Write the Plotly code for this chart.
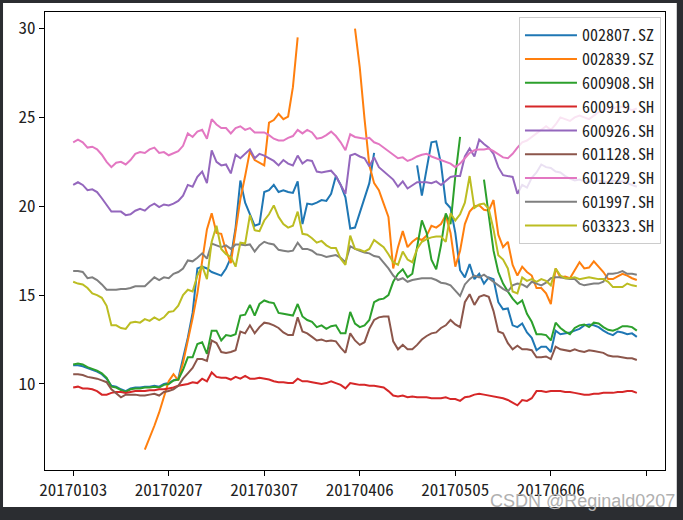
import plotly.graph_objects as go

dates = [
    "20170103","20170104","20170105","20170106","20170109","20170110","20170111","20170112","20170113",
    "20170116","20170117","20170118","20170119","20170120","20170123","20170124","20170125","20170126",
    "20170203","20170206","20170207","20170208","20170209","20170210","20170213","20170214","20170215",
    "20170216","20170217","20170220","20170221","20170222","20170223","20170224","20170227","20170228",
    "20170301","20170302","20170303","20170306","20170307","20170308","20170309","20170310","20170313",
    "20170314","20170315","20170316","20170317","20170320","20170321","20170322","20170323","20170324",
    "20170327","20170328","20170329","20170330","20170331",
    "20170405","20170406","20170407","20170410","20170411","20170412","20170413","20170414","20170417",
    "20170418","20170419","20170420","20170421","20170424","20170425","20170426","20170427","20170428",
    "20170502","20170503","20170504","20170505","20170508","20170509","20170510","20170511","20170512",
    "20170515","20170516","20170517","20170518","20170519","20170522","20170523","20170524","20170525",
    "20170526","20170531",
    "20170601","20170602","20170605","20170606","20170607","20170608","20170609","20170612","20170613",
    "20170614","20170615","20170616","20170619","20170620","20170621","20170622","20170623","20170626",
    "20170627","20170628","20170629","20170630",
]

N = None
s002807 = [11.05,11.05,11.0,10.9,10.8,10.7,10.55,10.3,9.9,9.85,
           9.7,9.6,9.75,9.8,9.8,9.85,9.85,9.9,9.85,10.0,
           10.05,10.2,10.3,11.5,12.6,14.0,16.5,16.6,16.5,16.3,
           16.2,16.1,16.5,17.1,18.8,21.45,20.2,19.5,18.9,19.0,
           20.8,20.9,21.2,20.8,20.9,20.8,20.75,21.4,19.0,20.15,
           20.1,20.2,20.35,20.3,20.7,21.7,21.2,20.5,18.75,18.8,
           19.6,20.4,21.3,23.0,N,N,N,N,N,N,
           N,N,22.3,20.6,22.1,23.6,23.65,22.4,20.2,19.9,
           18.5,16.4,16.0,16.75,15.9,16.2,15.65,16.0,15.9,14.6,
           14.2,14.25,13.3,13.2,13.4,12.9,12.6,11.9,12.1,12.1,
           11.8,13.0,12.8,12.85,12.9,13.0,13.1,13.3,13.35,13.3,
           13.2,13.0,12.85,12.75,12.95,12.9,12.8,12.85,12.65]
s002839 = [N,N,N,N,N,N,N,N,N,N,
           N,N,N,N,N,6.3,6.95,7.65,8.4,9.25,
           10.15,10.55,10.2,11.2,12.4,13.7,15.1,16.9,18.7,19.6,
           18.5,18.45,17.5,16.8,18.6,20.4,21.7,23.1,22.6,22.45,
           22.3,24.7,24.85,25.2,24.9,25.05,26.7,29.5,N,N,
           N,N,N,N,N,N,N,N,N,30.0,
           27.8,24.9,22.3,21.3,20.9,20.15,19.4,16.5,17.7,18.6,
           17.7,18.0,18.2,18.1,18.35,18.9,18.8,19.0,19.5,18.5,
           16.6,17.5,19.0,19.7,20.0,20.05,19.8,19.75,20.35,18.4,
           17.7,18.0,16.7,16.1,16.6,16.3,16.1,15.4,15.4,15.1,
           14.5,16.5,16.0,16.05,15.95,16.4,16.85,16.5,16.55,16.9,
           16.6,16.3,15.9,15.9,16.05,16.2,16.1,15.95,15.85]
s600908 = [11.1,11.15,11.1,10.95,10.85,10.75,10.6,10.35,9.85,9.8,
           9.65,9.55,9.7,9.75,9.75,9.8,9.8,9.85,9.8,9.95,
           10.0,10.2,10.25,10.8,11.5,11.5,12.25,12.35,11.7,13.0,
           13.0,12.45,12.75,12.7,12.8,13.85,13.9,14.45,13.85,14.5,
           14.7,14.6,14.55,14.0,13.95,13.9,13.85,14.5,13.8,13.6,
           13.5,13.2,13.3,13.1,13.25,13.3,12.85,12.85,14.05,13.4,
           13.2,13.3,13.6,14.6,14.75,14.8,15.0,15.75,16.2,16.45,
           16.0,16.2,17.6,19.2,18.5,17.0,16.45,17.8,19.6,19.0,
           21.7,23.9,N,N,N,N,21.5,19.5,17.5,16.3,
           15.65,15.2,14.8,14.5,14.7,13.95,13.5,12.8,12.8,12.75,
           12.45,13.45,13.15,12.95,12.8,13.15,13.3,13.35,13.2,13.45,
           13.4,13.2,13.05,13.0,13.1,13.25,13.25,13.2,13.0]
s600919 = [9.8,9.85,9.75,9.75,9.7,9.6,9.4,9.4,9.5,9.55,
           9.55,9.5,9.55,9.6,9.6,9.6,9.65,9.65,9.7,9.7,
           9.75,9.8,9.9,9.95,10.0,10.1,10.05,10.3,10.15,10.65,
           10.4,10.35,10.35,10.25,10.4,10.3,10.45,10.3,10.3,10.35,
           10.3,10.25,10.15,10.1,10.1,10.05,10.05,10.3,10.15,10.15,
           10.1,10.05,10.0,10.05,10.15,10.05,9.95,9.75,10.05,10.0,
           9.95,9.95,9.9,9.9,9.85,9.8,9.6,9.35,9.3,9.35,
           9.25,9.3,9.25,9.25,9.25,9.2,9.2,9.2,9.25,9.15,
           9.15,9.05,9.25,9.3,9.4,9.45,9.4,9.35,9.3,9.25,
           9.2,9.1,8.95,8.8,9.1,9.05,9.2,9.6,9.6,9.55,
           9.6,9.6,9.6,9.55,9.55,9.5,9.45,9.4,9.4,9.45,
           9.45,9.5,9.5,9.5,9.55,9.55,9.6,9.6,9.5]
s600926 = [21.2,21.35,21.2,20.9,20.95,20.8,20.45,20.05,19.7,19.7,
           19.7,19.5,19.55,19.75,19.85,19.75,20.0,20.15,19.95,20.1,
           20.05,20.15,20.3,20.6,21.2,21.1,21.65,21.95,21.3,23.15,
           22.5,22.3,22.35,21.85,22.9,22.7,22.95,23.2,22.7,22.95,
           22.85,22.7,22.55,22.3,22.6,22.4,22.3,22.85,22.4,22.6,
           22.55,21.95,21.9,21.95,22.0,21.7,21.2,20.7,22.85,22.95,
           22.8,22.7,22.25,22.75,22.2,21.95,21.75,21.5,21.1,21.4,
           21.0,21.2,21.35,21.35,21.35,21.3,21.4,21.2,21.45,21.65,
           21.7,21.7,22.8,23.25,22.8,23.75,23.5,23.3,22.95,22.2,
           21.75,21.7,21.65,20.7,21.2,21.05,21.6,21.9,22.35,22.2,
           22.15,21.95,21.9,21.7,21.55,21.45,21.5,21.4,21.35,21.4,
           21.45,21.4,21.35,21.45,21.4,21.4,21.3,21.2,21.1]
s601128 = [10.55,10.55,10.5,10.4,10.35,10.3,10.2,10.1,9.7,9.5,
           9.25,9.4,9.4,9.4,9.35,9.35,9.4,9.45,9.35,9.55,
           9.6,9.7,9.9,10.3,10.6,10.9,11.4,11.4,11.3,12.45,
           12.3,11.8,11.75,11.8,11.9,12.95,12.85,13.3,12.85,13.2,
           13.45,13.4,13.3,13.15,12.9,12.75,12.75,13.75,12.95,12.85,
           12.65,12.45,12.5,12.4,12.45,12.4,12.05,11.75,12.85,12.45,
           12.2,12.35,13.1,13.6,13.75,13.8,13.8,12.4,11.95,12.2,
           11.95,11.95,12.2,12.5,12.7,12.85,12.9,13.15,13.3,13.6,
           13.35,13.2,14.6,15.05,14.45,14.9,15.0,14.9,14.1,12.95,
           12.85,12.3,11.95,12.15,11.95,11.95,11.9,11.5,11.5,11.55,
           11.4,12.1,11.95,11.9,11.85,11.95,11.85,11.8,11.9,11.85,
           11.8,11.75,11.6,11.55,11.55,11.5,11.45,11.45,11.35]
s601229 = [23.6,23.75,23.6,23.3,23.35,23.2,22.9,22.5,22.2,22.45,
           22.5,22.35,22.6,22.95,23.05,23.0,23.2,23.3,23.0,23.05,
           22.87,23.0,23.1,23.4,24.1,23.9,24.2,24.3,23.8,24.9,
           24.6,24.4,24.4,24.1,24.4,24.5,24.3,24.4,24.15,24.15,
           24.15,24.0,23.8,23.7,23.7,23.85,23.95,24.3,24.1,24.3,
           24.15,23.8,23.85,24.0,24.2,23.95,23.6,23.15,24.05,23.9,
           23.85,23.8,23.85,23.6,23.5,23.3,23.1,22.85,22.7,22.75,
           22.55,22.65,22.8,22.9,22.95,22.8,22.7,22.6,22.5,22.4,
           22.2,22.4,22.7,23.0,23.15,23.2,23.2,23.25,23.1,22.9,
           22.75,22.7,22.95,23.3,23.6,23.7,23.9,24.1,24.3,24.5,
           24.3,24.6,25.0,24.9,24.8,25.0,25.1,25.0,24.9,25.1,
           25.3,25.4,25.5,25.5,25.6,25.6,25.5,25.4,25.5]
s601997 = [16.35,16.35,16.3,15.95,16.0,15.85,15.6,15.3,15.3,15.3,
           15.35,15.35,15.4,15.5,15.5,15.5,15.75,16.0,15.85,16.0,
           15.95,16.2,16.3,16.5,16.95,16.9,17.1,17.35,17.05,17.9,
           17.8,17.7,17.8,17.6,17.85,17.85,17.8,17.85,17.45,17.8,
           18.0,17.9,17.85,17.55,17.5,17.45,17.5,17.95,17.6,17.6,
           17.5,17.3,17.25,17.15,17.2,17.25,17.1,16.85,17.75,17.6,
           17.5,17.4,17.35,17.2,17.15,16.85,16.5,16.1,15.85,15.95,
           15.75,15.85,15.9,15.95,15.95,15.95,15.85,15.7,15.65,15.55,
           15.25,14.95,15.6,15.9,16.1,16.0,16.15,15.95,15.7,15.5,
           15.35,15.2,15.55,15.65,15.6,15.45,15.75,15.65,15.55,15.7,
           15.95,16.0,16.0,15.95,15.9,15.9,15.65,15.55,15.6,15.65,
           15.65,15.75,16.2,16.2,16.25,16.35,16.2,16.2,16.15]
s603323 = [15.75,15.65,15.6,15.4,15.1,15.0,14.85,14.4,13.3,13.3,
           13.15,13.1,13.45,13.5,13.45,13.65,13.55,13.75,13.6,13.75,
           14.05,14.1,14.4,15.0,15.3,15.2,16.1,16.65,15.9,18.0,
           18.9,17.6,17.3,17.15,16.6,17.95,17.9,19.5,18.65,18.6,
           19.2,19.55,20.05,19.4,19.0,18.8,18.9,19.7,18.45,18.4,
           18.2,17.95,18.05,17.8,17.65,17.65,17.05,16.7,18.35,17.6,
           17.55,17.45,17.6,18.1,17.9,17.7,17.3,16.85,16.7,17.45,
           17.0,16.85,17.6,18.0,18.15,18.25,18.3,18.3,18.0,19.6,
           19.2,19.55,20.2,21.7,19.9,20.1,20.15,19.85,18.7,17.25,
           17.0,16.5,15.2,15.1,16.0,15.8,15.9,15.75,15.9,15.8,
           15.55,16.5,16.1,15.95,15.95,16.0,15.9,15.95,16.0,15.95,
           15.9,15.9,15.75,15.45,15.45,15.45,15.65,15.55,15.5]

names = ["002807.SZ","002839.SZ","600908.SH","600919.SH","600926.SH",
         "601128.SH","601229.SH","601997.SH","603323.SH"]
series = [s002807,s002839,s600908,s600919,s600926,s601128,s601229,s601997,s603323]
colors = ["#1f77b4","#ff7f0e","#2ca02c","#d62728","#9467bd",
          "#8c564b","#e377c2","#7f7f7f","#bcbd22"]

tick_idx = [0, 20, 40, 60, 80, 100, 120]
tick_text = [dates[i] if i < len(dates) else "" for i in tick_idx]

FONT = "Noto Sans Mono CJK SC, DejaVu Sans Mono, monospace"

fig = go.Figure()
x = list(range(len(dates)))
for name, ys, c in zip(names, series, colors):
    fig.add_trace(go.Scatter(x=x, y=ys, mode="lines", name=name,
                             line=dict(color=c, width=2), connectgaps=False))

# white figure area inside dark screenshot frame
fig.add_shape(type="rect", xref="paper", yref="paper", x0=-0.0677, x1=1.019,
              y0=-0.0808, y1=1.0197, fillcolor="white", line=dict(width=0), layer="below")

fig.update_layout(
    width=683, height=520,
    margin=dict(l=45, r=18, t=12, b=50),
    paper_bgcolor="#2b2d31",
    plot_bgcolor="white",
    font=dict(family=FONT, size=17, color="black"),
    showlegend=True,
    legend=dict(x=0.9935, y=0.9884, xanchor="right", yanchor="top",
                bgcolor="rgba(255,255,255,0.8)", bordercolor="#cccccc", borderwidth=1,
                font=dict(family=FONT, size=16, color="#222222"), itemwidth=52,
                tracegroupgap=0),
    annotations=[dict(text="CSDN @Reginald0207", xref="paper", yref="paper",
                      x=1.02, y=-0.093, xanchor="right", yanchor="bottom", showarrow=False,
                      font=dict(family="Liberation Sans, Arial, sans-serif", size=18, color="#b0b0b0"))],
)
fig.update_xaxes(range=[-5.9, 123.9], tickmode="array", tickvals=tick_idx, ticktext=tick_text,
                 showline=True, linecolor="black", linewidth=1, mirror=True,
                 ticks="outside", ticklen=5, tickcolor="black", showgrid=False, zeroline=False,
                 tickfont=dict(family=FONT, size=17, color="#222222"))
fig.update_yaxes(range=[5.16, 30.93], tickmode="array", tickvals=[10, 15, 20, 25, 30],
                 showline=True, linecolor="black", linewidth=1, mirror=True,
                 ticks="outside", ticklen=5, tickcolor="black", showgrid=False, zeroline=False,
                 tickfont=dict(family=FONT, size=17, color="#222222"))

fig.write_html("out.html")
